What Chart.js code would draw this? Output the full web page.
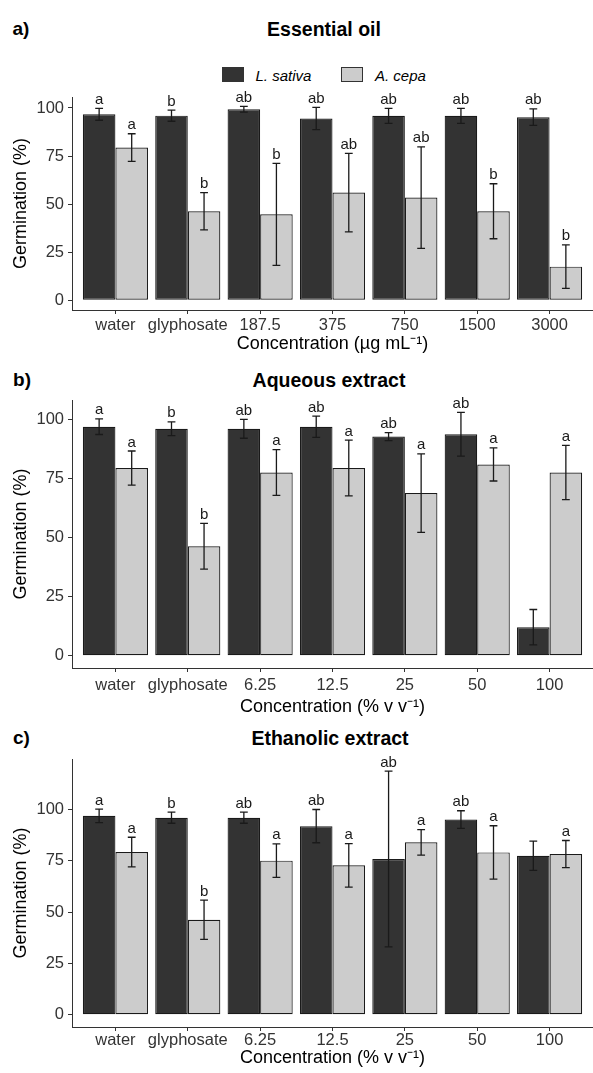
<!DOCTYPE html>
<html>
<head>
<meta charset="utf-8">
<script src="https://cdn.jsdelivr.net/npm/chart.js@4.4.0/dist/chart.umd.min.js"></script>
<style>
  body { margin: 0; background: #fff; width: 593px; height: 1073px; position: relative; overflow: hidden;
         font-family: 'Liberation Sans', Arial, sans-serif; color: #000; }
  .panel { position: absolute; left: 0; width: 593px; }
  .tag, .title { position: absolute; font-weight: bold; transform: translate(-50%, -50%); white-space: nowrap; }
  .tag { font-size: 19px; }
  .title { font-size: 19.5px; }
  .key { position: absolute; width: 22px; height: 15px; box-sizing: border-box; border: 1px solid #333; }
  .lab { position: absolute; font-size: 15px; font-style: italic; transform: translateY(-50%); white-space: nowrap; }
</style>
</head>
<body>
<div class="tag" style="left:21px; top:28.5px">a)</div>
<div class="title" style="left:324px; top:29px">Essential oil</div>
<div class="key" style="left:222px; top:67px; background:#333333"></div>
<div class="lab" style="left:255.5px; top:75px">L. sativa</div>
<div class="key" style="left:341px; top:67px; background:#CCCCCC"></div>
<div class="lab" style="left:375px; top:75px">A. cepa</div>

<div class="tag" style="left:22px; top:380px">b)</div>
<div class="title" style="left:329px; top:379.5px">Aqueous extract</div>

<div class="tag" style="left:21.5px; top:737.5px">c)</div>
<div class="title" style="left:330px; top:738px">Ethanolic extract</div>

<div class="panel" style="top:0px"><canvas id="oilChart" width="593" height="355"></canvas></div>
<div class="panel" style="top:355px"><canvas id="aqChart" width="593" height="363"></canvas></div>
<div class="panel" style="top:718px"><canvas id="ethChart" width="593" height="351"></canvas></div>

<script>
// categories
const oilDoses = ['water', 'glyphosate', '187.5', '375', '750', '1500', '3000'];
const extractDoses = ['water', 'glyphosate', '6.25', '12.5', '25', '50', '100'];
const yTicks = [0, 25, 50, 75, 100];

// a) essential oil
const oilSativa = [96.7, 96.0, 99.3, 94.5, 95.9, 95.9, 95.2];
const oilSativaSd = [3.1, 2.9, 1.5, 5.8, 3.9, 3.9, 4.3];
const oilCepa = [79.4, 46.3, 44.7, 56.0, 53.4, 46.3, 17.5];
const oilCepaSd = [7.2, 9.7, 26.5, 20.4, 26.4, 14.3, 11.3];
const oilSativaLetters = ['a', 'b', 'ab', 'ab', 'ab', 'ab', 'ab'];
const oilCepaLetters = ['a', 'b', 'b', 'ab', 'ab', 'b', 'b'];

// b) aqueous extract
const aqSativa = [97.0, 96.1, 96.1, 97.0, 92.8, 93.8, 12.1];
const aqSativaSd = [3.3, 2.9, 4.0, 4.5, 1.7, 9.3, 7.5];
const aqCepa = [79.5, 46.4, 77.6, 79.5, 68.9, 81.0, 77.6];
const aqCepaSd = [7.2, 9.7, 9.7, 11.8, 16.6, 7.0, 11.5];
const aqSativaLetters = ['a', 'b', 'ab', 'ab', 'ab', 'ab', ''];
const aqCepaLetters = ['a', 'b', 'a', 'a', 'a', 'a', 'a'];

// c) ethanolic extract
const ethSativa = [96.9, 96.0, 96.0, 91.9, 75.9, 95.1, 77.5];
const ethSativaSd = [3.3, 2.7, 2.7, 8.1, 42.8, 4.3, 7.1];
const ethCepa = [79.3, 46.3, 75.1, 72.8, 84.0, 79.1, 78.3];
const ethCepaSd = [7.2, 9.6, 8.2, 10.6, 6.2, 13.0, 6.6];
const ethSativaLetters = ['a', 'b', 'ab', 'ab', 'ab', 'ab', ''];
const ethCepaLetters = ['a', 'b', 'a', 'a', 'a', 'a', 'a'];

const FONT = "'Liberation Sans', Arial, sans-serif";
const AXIS_COLOR = '#333333';

// error bars + significance letters on top of each bar
const errorBars = {
    id: 'errorBars',
    afterDatasetsDraw(chart) {
        const ctx = chart.ctx;
        const yScale = chart.scales.y;
        chart.data.datasets.forEach((ds, di) => {
            const meta = chart.getDatasetMeta(di);
            meta.data.forEach((bar, i) => {
                const mean = ds.data[i].y;
                const sd = ds.errors[i];
                const top = yScale.getPixelForValue(mean + sd);
                const bottom = yScale.getPixelForValue(mean - sd);
                const half = bar.width * 0.12;
                ctx.save();
                ctx.strokeStyle = '#1a1a1a';
                ctx.lineWidth = 1.3;
                ctx.beginPath();
                ctx.moveTo(bar.x, top);
                ctx.lineTo(bar.x, bottom);
                ctx.moveTo(bar.x - half, top);
                ctx.lineTo(bar.x + half, top);
                ctx.moveTo(bar.x - half, bottom);
                ctx.lineTo(bar.x + half, bottom);
                ctx.stroke();
                if (ds.letters[i]) {
                    ctx.fillStyle = '#1a1a1a';
                    ctx.font = '15px ' + FONT;
                    ctx.textAlign = 'center';
                    ctx.textBaseline = 'alphabetic';
                    ctx.fillText(ds.letters[i], bar.x, top - 4.5);
                }
                ctx.restore();
            });
        });
    }
};

function makePanel(id, doses, sativa, sativaSd, cepa, cepaSd, sativaLetters, cepaLetters, yMin, yMax, xTitle, layoutBox) {
    const toPoints = arr => arr.map((v, i) => ({ x: i, y: v }));
    new Chart(document.getElementById(id), {
        type: 'bar',
        data: {
            datasets: [
                {
                    label: 'L. sativa',
                    data: toPoints(sativa),
                    errors: sativaSd,
                    letters: sativaLetters,
                    backgroundColor: '#333333',
                    borderColor: '#1a1a1a',
                    borderWidth: 1.2,
                    borderSkipped: false,
                    categoryPercentage: 0.9,
                    barPercentage: 1.0
                },
                {
                    label: 'A. cepa',
                    data: toPoints(cepa),
                    errors: cepaSd,
                    letters: cepaLetters,
                    backgroundColor: '#CCCCCC',
                    borderColor: '#1a1a1a',
                    borderWidth: 1.2,
                    borderSkipped: false,
                    categoryPercentage: 0.9,
                    barPercentage: 1.0
                }
            ]
        },
        options: {
            responsive: false,
            animation: false,
            layout: { padding: { top: layoutBox.padTop, left: 0, right: 0, bottom: 0 } },
            plugins: { legend: { display: false }, title: { display: false }, tooltip: { enabled: false } },
            scales: {
                x: {
                    type: 'linear',
                    offset: false,
                    min: -0.6,
                    max: doses.length - 0.4,
                    afterBuildTicks: scale => { scale.ticks = doses.map((d, i) => ({ value: i })); },
                    afterFit: scale => { scale.height = layoutBox.xHeight; },
                    ticks: {
                        callback: v => doses[v],
                        autoSkip: false,
                        maxRotation: 0,
                        color: AXIS_COLOR,
                        padding: layoutBox.tickPad,
                        font: { family: FONT, size: 16.5 }
                    },
                    grid: { offset: false, drawOnChartArea: false, drawTicks: true, tickLength: 4, color: AXIS_COLOR },
                    border: { display: true, color: AXIS_COLOR, width: 1 },
                    title: { display: true, text: xTitle, color: '#000', padding: { top: 0, bottom: 0 },
                             font: { family: FONT, size: 18 } }
                },
                y: {
                    min: yMin,
                    max: yMax,
                    afterBuildTicks: scale => { scale.ticks = yTicks.map(v => ({ value: v })); },
                    afterFit: scale => { scale.width = 72; },
                    ticks: { color: AXIS_COLOR, padding: 4, font: { family: FONT, size: 16.5 } },
                    grid: { drawOnChartArea: false, drawTicks: true, tickLength: 4, color: AXIS_COLOR },
                    border: { display: true, color: AXIS_COLOR, width: 1 },
                    title: { display: true, text: 'Germination (%)', color: '#000', padding: { top: 10, bottom: 0 },
                             font: { family: FONT, size: 18 } }
                }
            }
        },
        plugins: [errorBars]
    });
}

makePanel('oilChart', oilDoses, oilSativa, oilSativaSd, oilCepa, oilCepaSd, oilSativaLetters, oilCepaLetters,
    -5.04, 105.7, 'Concentration (µg mL⁻¹)', { padTop: 97, xHeight: 45, tickPad: 2 });
makePanel('aqChart', extractDoses, aqSativa, aqSativaSd, aqCepa, aqCepaSd, aqSativaLetters, aqCepaLetters,
    -5.16, 108.3, 'Concentration (% v v⁻¹)', { padTop: 45, xHeight: 50, tickPad: 4 });
makePanel('ethChart', extractDoses, ethSativa, ethSativaSd, ethCepa, ethCepaSd, ethSativaLetters, ethCepaLetters,
    -5.93, 124.6, 'Concentration (% v v⁻¹)', { padTop: 41, xHeight: 42, tickPad: 0 });
</script>
</body>
</html>
